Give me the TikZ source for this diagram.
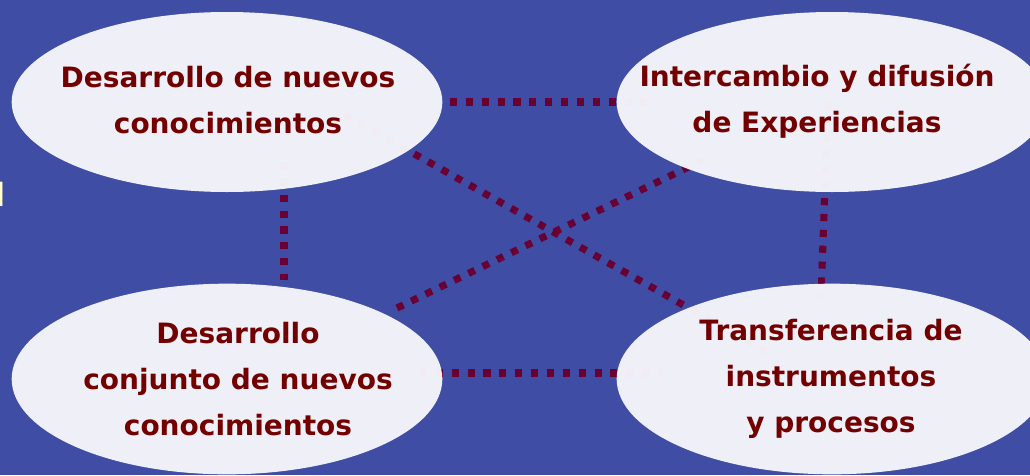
\documentclass[tikz,border=0pt]{standalone}
\usepackage{fontspec}
\setmainfont{DejaVu Sans}
\usetikzlibrary{shapes.geometric}

\definecolor{fondo}{RGB}{63,77,164}
\definecolor{nube}{RGB}{249,249,252}
\definecolor{granate}{RGB}{115,0,0}
\definecolor{punto}{RGB}{104,0,52}
\definecolor{crema}{RGB}{255,255,200}

\tikzset{
  burbuja/.style={ellipse, inner sep=0pt, fill=nube, fill opacity=0.95,
    minimum width=323pt, minimum height=#1},
  burbuja/.default=135pt,
  rotulo/.style={align=center, text=granate,
    font=\fontsize{21}{34.5}\selectfont\bfseries},
  enlace/.style={draw=punto, line width=5.3pt,
    dash pattern=on 5.3pt off 6.6pt}
}

\begin{document}
\begin{tikzpicture}[x=0.75pt, y=-0.75pt]
    \fill[fondo] (0,0) rectangle (1030,475);
    \useasboundingbox (0,0) rectangle (1030,475);
    % trozo de texto cortado en el borde
    \node[anchor=base east, inner sep=0pt, text=crema,
      font=\fontsize{24}{24}\selectfont] (resto) at (6,206) {d};
    % extremos de los enlaces
    \coordinate (P0_a) at (450,102);
    \coordinate (P0_b) at (647,102);
    \coordinate (P1_a) at (420,373);
    \coordinate (P1_b) at (663,373);
    \coordinate (P2_a) at (284,163);
    \coordinate (P2_b) at (284,280);
    \coordinate (P3_a) at (828,103);
    \coordinate (P3_b) at (821,297);
    \coordinate (P4_a) at (345,115);
    \coordinate (P4_b) at (767,352);
    \coordinate (P5_a) at (397,308);
    \coordinate (P5_b) at (703,160);
    \path (P0_a) edge [enlace] (P0_b);
    \path (P1_a) edge [enlace] (P1_b);
    \path (P2_a) edge [enlace] (P2_b);
    \path (P3_a) edge [enlace] (P3_b);
    \path (P4_a) edge [enlace] (P4_b);
    \path (P5_a) edge [enlace] (P5_b);
    % elipses
    \node[burbuja] (E0_0) at (227,102) {};
    \node[burbuja] (E0_1) at (832,102) {};
    \node[burbuja=143pt] (E1_0) at (227,379) {};
    \node[burbuja=143pt] (E1_1) at (832,379) {};
    \node[rotulo] (T0_0) at (228,100) {Desarrollo de nuevos\\conocimientos};
    \node[rotulo] (T0_1) at (817,101) {Intercambio y difusión\\de Experiencias};
    \node[rotulo] (T1_0) at (238,379) {Desarrollo\\conjunto de nuevos\\conocimientos};
    \node[rotulo] (T1_1) at (831,379) {Transferencia de\\instrumentos\\y procesos};
  \end{tikzpicture}
\end{document}
